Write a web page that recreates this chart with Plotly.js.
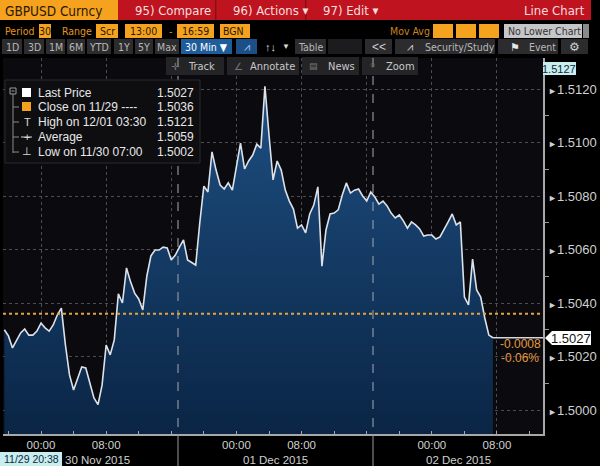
<!DOCTYPE html>
<html><head><meta charset="utf-8">
<script src="https://cdn.plot.ly/plotly-3.0.1.min.js"></script>
<style>html,body{margin:0;padding:0;background:#000;overflow:hidden}#chart{width:600px;height:466px;}</style>
</head><body><div id="chart"></div>
<script>
// ---------------- DATA ----------------
const seriesStartUTC = Date.UTC(2015, 10, 29, 19, 30); // 11/29 19:30, 30-min bars
const barMinutes = 30;
const priceValues = [
 1.50300,1.50277,1.50232,1.50258,1.50288,1.50303,1.50280,1.50280,1.50295,
 1.50325,1.50307,1.50295,1.50318,1.50355,1.50381,1.50243,1.50131,1.50075,1.50116,
 1.50161,1.50157,1.50097,1.50045,1.50020,1.50093,1.50243,1.50206,1.50262,1.50434,
 1.50400,1.50531,1.50479,1.50437,1.50415,1.50374,1.50501,1.50576,1.50598,1.50598,
 1.50609,1.50606,1.50561,1.50579,1.50609,1.50636,1.50561,1.50550,1.50542,1.50700,
 1.50837,1.50815,1.50965,1.50897,1.50841,1.50826,1.50849,1.50822,1.50916,1.50998,
 1.50901,1.50931,1.50953,1.50994,1.50979,1.51210,1.51028,1.50860,1.50931,1.50897,
 1.50822,1.50781,1.50751,1.50680,1.50692,1.50662,1.50733,1.50766,1.50834,1.50538,
 1.50673,1.50733,1.50736,1.50748,1.50804,1.50849,1.50811,1.50822,1.50826,1.50800,
 1.50781,1.50815,1.50796,1.50770,1.50781,1.50763,1.50736,1.50718,1.50729,1.50707,
 1.50680,1.50703,1.50692,1.50677,1.50650,1.50654,1.50654,1.50639,1.50647,1.50673,
 1.50703,1.50733,1.50692,1.50703,1.50422,1.50393,1.50564,1.50449,1.50422,1.50344,
 1.50280,1.50270
];
const lastPrice = 1.5027;
const closePrice = 1.5036;
const summaryLabels = ['Last Price', 'Close on 11/29 ----', 'High on 12/01 03:30', 'Average', 'Low on 11/30 07:00'];
const summaryValues = ['1.5027', '1.5036', '1.5121', '1.5059', '1.5002'];
const changeLabels = ['-0.0008', '-0.06%'];
const yTickVals = [1.5000, 1.5020, 1.5040, 1.5060, 1.5080, 1.5100, 1.5120];
const yMinorVals = [1.5010, 1.5030, 1.5050, 1.5070, 1.5090, 1.5110, 1.5130];
const xTickVals = ['2015-11-30 00:00','2015-11-30 08:00','2015-11-30 16:00','2015-12-01 00:00','2015-12-01 08:00','2015-12-01 16:00','2015-12-02 00:00','2015-12-02 08:00'];
const xTickText = ['00:00','08:00','','00:00','08:00','','00:00','08:00'];
const dayLabels = ['30 Nov 2015', '01 Dec 2015', '02 Dec 2015'];
const topScaleLabel = '1.5127';
const cursorTimeLabel = '11/29 20:38';

// ---------------- BUILD ----------------
function fmt(ms){ return new Date(ms).toISOString().slice(0,16).replace('T',' '); }
const times = priceValues.map((_, i) => fmt(seriesStartUTC + i * barMinutes * 60000));
const xRange = ['2015-11-29 19:20', '2015-12-02 13:39'];
const yRange = [1.499103, 1.513159];

const Lp = 3, Rp = 543, Tp = 58, Bp = 434;
const X = x => (x - Lp) / (Rp - Lp);
const Y = y => (Bp - y) / (Bp - Tp);
const NARROW = "'DejaVu Sans Condensed','Liberation Sans Narrow','Liberation Sans',sans-serif";
const SANS = "'Liberation Sans','DejaVu Sans',sans-serif";

const shapes = [];
const ann = [];
function rect(x0, y0, x1, y1, fill, lineColor) {
  shapes.push({type:'rect', xref:'paper', yref:'paper', x0:X(x0), x1:X(x1), y0:Y(y1), y1:Y(y0),
    fillcolor:fill, line:{width: lineColor ? 1 : 0, color: lineColor || fill}, layer:'above'});
}
function pline(x0, y0, x1, y1, color, width, dash) {
  shapes.push({type:'line', xref:'paper', yref:'paper', x0:X(x0), x1:X(x1), y0:Y(y0), y1:Y(y1),
    line:{color:color, width:width || 1, dash: dash || 'solid'}, layer:'above'});
}
function txt(x, y, text, size, color, anchor, family) {
  ann.push({xref:'paper', yref:'paper', x:X(x), y:Y(y), text:text, showarrow:false,
    xanchor: anchor || 'left', yanchor:'middle', borderpad:0,
    font:{size:size, color:color, family: family || SANS}});
}

// header row 1
const ORANGE = '#f5a21e', RED = '#bf1420', DARKTXT = '#2b1800';
rect(0, 0, 118, 20, ORANGE);
txt(4, 10.5, 'GBPUSD Curncy', 13.5, DARKTXT, 'left', NARROW);
rect(118, 0, 591, 20, RED);
rect(215, 0, 216.5, 20, '#8c0c14');
rect(305, 0, 306.5, 20, '#8c0c14');
txt(134, 10.5, '95) Compare', 13, '#f6dede', 'left', NARROW);
txt(232, 10.5, '96) Actions ▾', 13, '#f6dede', 'left', NARROW);
txt(322, 10.5, '97) Edit ▾', 13, '#f6dede', 'left', NARROW);
txt(586, 10.5, 'Line Chart', 13, '#f6dede', 'right', NARROW);

// header row 2
const OTXT = '#e0961e';
txt(4, 31, 'Period', 10.5, OTXT, 'left', NARROW);
rect(39, 24, 51, 38, ORANGE); txt(45, 31, '30', 10.5, DARKTXT, 'center', NARROW);
txt(61, 31, 'Range', 10.5, OTXT, 'left', NARROW);
rect(96, 24, 118, 38, ORANGE); txt(107, 31, 'Scr', 10.5, DARKTXT, 'center', NARROW);
rect(125, 24, 162, 38, ORANGE); txt(143.5, 31, '13:00', 10.5, DARKTXT, 'center', NARROW);
txt(170, 31, '-', 10.5, OTXT, 'center', NARROW);
rect(177, 24, 214, 38, ORANGE); txt(195.5, 31, '16:59', 10.5, DARKTXT, 'center', NARROW);
rect(220, 24, 250, 38, ORANGE); txt(222, 31, 'BGN', 10.5, DARKTXT, 'left', NARROW);
txt(389, 31, 'Mov Avg', 10.5, '#c8841e', 'left', NARROW);
rect(433, 24, 453, 38, ORANGE); rect(456, 24, 476, 38, ORANGE); rect(479, 24, 499, 38, ORANGE);
rect(504, 24, 582, 38, '#c6c6c8'); txt(507, 31, 'No Lower Chart', 10.5, '#333', 'left', NARROW);
rect(583, 24, 589, 38, '#8a8a8a');

// header row 3
const BTN = '#2c2c2e', BTXT = '#b8b8b8';
[[2,22,'1D'],[24,44,'3D'],[46,65,'1M'],[67,85,'6M'],[87,111,'YTD'],[114,133,'1Y'],[135,153,'5Y'],[155,179,'Max']].forEach(b => {
  rect(b[0], 39, b[1], 54, BTN); txt((b[0]+b[1])/2, 46.5, b[2], 10.5, BTXT, 'center', NARROW);
});
rect(181, 39, 232, 54, '#1f5c9c'); txt(206.5, 46.5, '30 Min ▼', 10.5, '#ffffff', 'center', NARROW);
rect(236, 39, 257, 54, '#1d4f86'); txt(246.5, 46.5, '⩘', 11, '#9fd0ff', 'center', SANS);
txt(270, 46.5, '↑↓', 11, '#d8d8d8', 'center', SANS);
txt(286, 46.5, '▼', 8, '#d8d8d8', 'center', SANS);
rect(295, 39, 326, 54, BTN); txt(310.5, 46.5, 'Table', 10.5, BTXT, 'center', NARROW);
rect(328, 39, 362, 54, '#1c1c1e');
rect(365, 39, 392, 54, BTN); txt(378.5, 46.5, '<<', 12, '#d0d0d0', 'center', SANS);
rect(395, 39, 495, 54, BTN); txt(410, 46.5, '⩘', 11, '#d0d0d0', 'center', SANS);
txt(424, 46.5, 'Security/Study', 10.5, BTXT, 'left', NARROW);
rect(498, 39, 558, 54, BTN); txt(515, 46.5, '⚑', 11, '#e8e8e8', 'center', SANS);
txt(528, 46.5, 'Event', 10.5, BTXT, 'left', NARROW);
rect(561, 39, 588, 54, BTN); txt(574.5, 46.5, '⚙', 12, '#d0d0d0', 'center', SANS);

// header row 4 (over plot)
const BTN4 = '#242426';
rect(166, 57, 224, 75, BTN4); txt(175, 66, '✛', 10, '#777', 'center', SANS); txt(187, 66, 'Track', 11, '#c8c8c8', 'left', NARROW);
rect(227, 57, 299, 75, BTN4); txt(238, 66, '∠', 10, '#777', 'center', SANS); txt(249, 66, 'Annotate', 11, '#c8c8c8', 'left', NARROW);
rect(302, 57, 359, 75, BTN4); txt(313, 66, '▤', 9, '#777', 'center', SANS); txt(327, 66, 'News', 11, '#c8c8c8', 'left', NARROW);
rect(362, 57, 418, 75, BTN4); txt(372, 65, '○', 9, '#777', 'center', SANS); txt(385, 66, 'Zoom', 11, '#c8c8c8', 'left', NARROW);

// day separators
[178, 373].forEach(px => {
  pline(px, Tp, px, Bp, 'rgba(150,155,165,0.75)', 1.5, 'dash');
  pline(px, Bp, px, 466, '#9a9a9a', 1);
});

// close line
shapes.push({type:'line', xref:'paper', yref:'y', x0:0, x1:1, y0:closePrice, y1:closePrice,
  line:{color:'#e9a23b', width:2, dash:'dot'}, layer:'above'});
// last price flat line
shapes.push({type:'line', xref:'x', yref:'y', x0:times[times.length-1], x1:xRange[1], y0:lastPrice, y1:lastPrice,
  line:{color:'#d4d8de', width:1.5}, layer:'above'});

// legend box
rect(5, 80, 200, 163, 'rgba(14,14,18,0.97)', '#2a2a2e');
rect(10, 88, 16, 94, 'rgba(0,0,0,0)', '#9a9a9a');
pline(11.5, 91, 14.5, 91, '#9a9a9a', 1);
pline(13, 94, 13, 153, '#8a8a8a', 1);
[107, 122, 137, 152].forEach(yy => pline(13, yy, 19, yy, '#8a8a8a', 1));
const rowsY = [93, 107, 122, 137, 152];
rect(22, 88, 31, 97, '#ffffff');
rect(22, 102, 31, 111, '#f5a21e');
txt(27, 122, 'T', 11, '#d8d8d8', 'center', SANS);
pline(21, 137, 32, 137, '#d8d8d8', 1);
txt(27, 136.5, '+', 11, '#d8d8d8', 'center', SANS);
txt(27, 151, '⊥', 11, '#d8d8d8', 'center', SANS);
summaryLabels.forEach((s, i) => txt(37, rowsY[i], s, 12, '#e8e8e8', 'left', SANS));
summaryValues.forEach((s, i) => txt(195, rowsY[i], s, 12, '#e8e8e8', 'right', SANS));

// right side labels
rect(543, 62, 576, 75, '#c8eef0'); txt(559.5, 68.5, topScaleLabel, 11, '#0e2a3a', 'center', SANS);
shapes.push({type:'path', xref:'paper', yref:'paper', layer:'above',
  path:`M ${X(545)} ${Y(338)} L ${X(552)} ${Y(331)} L ${X(591)} ${Y(331)} L ${X(591)} ${Y(345)} L ${X(552)} ${Y(345)} Z`,
  fillcolor:'#ffffff', line:{width:0}});
txt(571, 338, lastPrice.toFixed(4), 13, '#111', 'center', SANS);
txt(542, 344, changeLabels[0], 12, '#e39a3f', 'right', SANS);
txt(540, 358, changeLabels[1], 12, '#e39a3f', 'right', SANS);

// date labels & cursor box
txt(64, 459.5, dayLabels[0], 11.5, '#d0d0d0', 'left', SANS);
txt(275.5, 459.5, dayLabels[1], 11.5, '#d0d0d0', 'center', SANS);
txt(458, 459.5, dayLabels[2], 11.5, '#d0d0d0', 'center', SANS);
rect(0, 452, 62, 466, '#c8eef0'); txt(31, 459, cursorTimeLabel, 10.5, '#0e2a3a', 'center', SANS);

const trace = {
  x: times, y: priceValues, type: 'scatter', mode: 'lines',
  line: {color: '#dde2e9', width: 1.6},
  fill: 'tozeroy',
  fillgradient: {type: 'vertical', start: 1.4991, stop: 1.5121, colorscale: [[0, '#0a2545'], [1, '#1e4f82']]},
  hoverinfo: 'skip'
};

const layout = {
  width: 600, height: 466,
  margin: {l: Lp, r: 600 - Rp, t: Tp, b: 466 - Bp, pad: 0},
  paper_bgcolor: '#000000', plot_bgcolor: '#0b0b0f',
  showlegend: false,
  xaxis: {
    type: 'date', range: xRange, tickmode: 'array', tickvals: xTickVals, ticktext: xTickText,
    showgrid: true, gridcolor: '#4c4c52', griddash: 'dot', gridwidth: 1,
    showline: true, linecolor: '#a8a8a8', linewidth: 1.5,
    ticks: 'inside', ticklen: 3, tickcolor: '#a8a8a8',
    minor: {tickmode: 'linear', tick0: '2015-11-30 04:00', dtick: 4 * 3600000, ticks: 'inside', ticklen: 3, tickcolor: '#a8a8a8', showgrid: false},
    tickfont: {size: 11.5, color: '#d0d0d0', family: SANS},
    zeroline: false, fixedrange: true
  },
  yaxis: {
    side: 'right', range: yRange, tickmode: 'array', tickvals: yTickVals,
    ticktext: yTickVals.map(v => '<span style="font-size:9px">►</span>' + v.toFixed(4)),
    showgrid: true, gridcolor: '#4c4c52', griddash: 'dot', gridwidth: 1,
    showline: true, linecolor: '#a8a8a8', linewidth: 1.5,
    ticks: '', ticklabelstandoff: 1,
    minor: {tickmode: 'array', tickvals: yMinorVals, ticks: 'outside', ticklen: 4, tickcolor: '#9a9a9a', showgrid: false},
    tickfont: {size: 13, color: '#d0d0d0', family: SANS},
    zeroline: false, fixedrange: true
  },
  shapes: shapes,
  annotations: ann
};

Plotly.newPlot('chart', [trace], layout, {displayModeBar: false, staticPlot: true});
</script>
</body></html>
